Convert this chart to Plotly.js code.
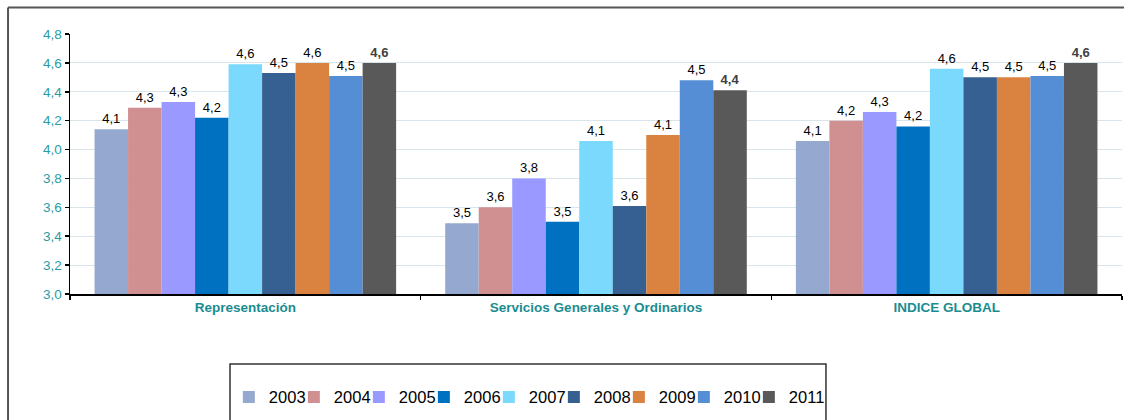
<!DOCTYPE html>
<html>
<head>
<meta charset="utf-8">
<script src="https://cdn.plot.ly/plotly-3.0.1.min.js"></script>
<style>html,body{margin:0;padding:0;background:#fff;overflow:hidden;}#chart{width:1124px;height:420px;}</style>
</head>
<body>
<div id="chart"></div>
<script>
const categories = ["Representación", "Servicios Generales y Ordinarios", "INDICE GLOBAL"];
const years = ["2003", "2004", "2005", "2006", "2007", "2008", "2009", "2010", "2011"];
const v2003 = [4.14, 3.49, 4.06];
const v2004 = [4.29, 3.60, 4.20];
const v2005 = [4.33, 3.80, 4.26];
const v2006 = [4.22, 3.50, 4.16];
const v2007 = [4.59, 4.06, 4.56];
const v2008 = [4.53, 3.61, 4.50];
const v2009 = [4.60, 4.10, 4.50];
const v2010 = [4.51, 4.48, 4.51];
const v2011 = [4.60, 4.41, 4.60];
const seriesValues = [v2003, v2004, v2005, v2006, v2007, v2008, v2009, v2010, v2011];
const colors = ["#95A8CF", "#D09092", "#9999FF", "#0070C0", "#7AD9FC", "#366092", "#DA8340", "#558ED5", "#595959"];
const yTicks = [3.0, 3.2, 3.4, 3.6, 3.8, 4.0, 4.2, 4.4, 4.6, 4.8];

const FONT = "Liberation Sans, Arial, sans-serif";

const traces = years.map((y, i) => {
  const t = {
    type: "bar",
    name: y,
    x: categories,
    y: seriesValues[i],
    marker: {color: colors[i], line: {width: 0}},
    texttemplate: "%{y:.1f}",
    textposition: "outside",
    cliponaxis: false,
    textfont: i === 8
      ? {family: FONT, size: 13, color: "#404040", weight: "bold"}
      : {family: FONT, size: 13, color: "#000000"},
    hoverinfo: "skip"
  };
  if (i < years.length - 1) t.legendwidth = 20;
  return t;
});

const layout = {
  width: 1124, height: 420,
  margin: {l: 70, r: 2, t: 34, b: 126},
  paper_bgcolor: "#ffffff", plot_bgcolor: "#ffffff",
  separators: ",.",
  barmode: "group",
  bargap: 0.14,
  bargroupgap: 0,
  font: {family: FONT},
  xaxis: {
    type: "category",
    showline: true, linecolor: "#000000", linewidth: 1.5,
    ticks: "outside", tickson: "boundaries", ticklen: 4, tickcolor: "#000000", tickwidth: 1.5,
    tickfont: {family: FONT, size: 13.5, color: "#1A8C91", weight: "bold"},
    showgrid: false, zeroline: false, fixedrange: true
  },
  yaxis: {
    range: [3.0, 4.8],
    tickvals: yTicks,
    tickformat: ".1f",
    showline: true, linecolor: "#000000", linewidth: 1.5,
    ticks: "outside", ticklen: 4, tickcolor: "#000000", tickwidth: 1.5,
    tickfont: {family: FONT, size: 13.5, color: "#2A9BA2"},
    showgrid: true, gridcolor: "#D8E6EB", gridwidth: 1,
    zeroline: false, fixedrange: true
  },
  showlegend: true,
  legend: {
    orientation: "h",
    x: 0.151, xanchor: "left",
    y: -0.33, yanchor: "top",
    itemwidth: 30,
    font: {family: FONT, size: 16.5, color: "#000000"},
    bgcolor: "rgba(0,0,0,0)",
    borderwidth: 0,
    traceorder: "normal"
  },
  shapes: [
    {type: "line", xref: "paper", yref: "paper", x0: -0.0589, x1: -0.0589, y0: -0.49, y1: 1.102,
     line: {color: "#555555", width: 2}, layer: "below"},
    {type: "line", xref: "paper", yref: "paper", x0: -0.0589, x1: 1.002, y0: 1.102, y1: 1.102,
     line: {color: "#555555", width: 2}, layer: "below"},
    {type: "path", xref: "paper", yref: "paper",
     path: "M0.1521,-0.49 L0.1521,-0.2692 L0.7186,-0.2692 L0.7186,-0.49",
     line: {color: "#333333", width: 1.5}, layer: "below"}
  ]
};

Plotly.newPlot("chart", traces, layout, {displayModeBar: false, staticPlot: true});
</script>
</body>
</html>
